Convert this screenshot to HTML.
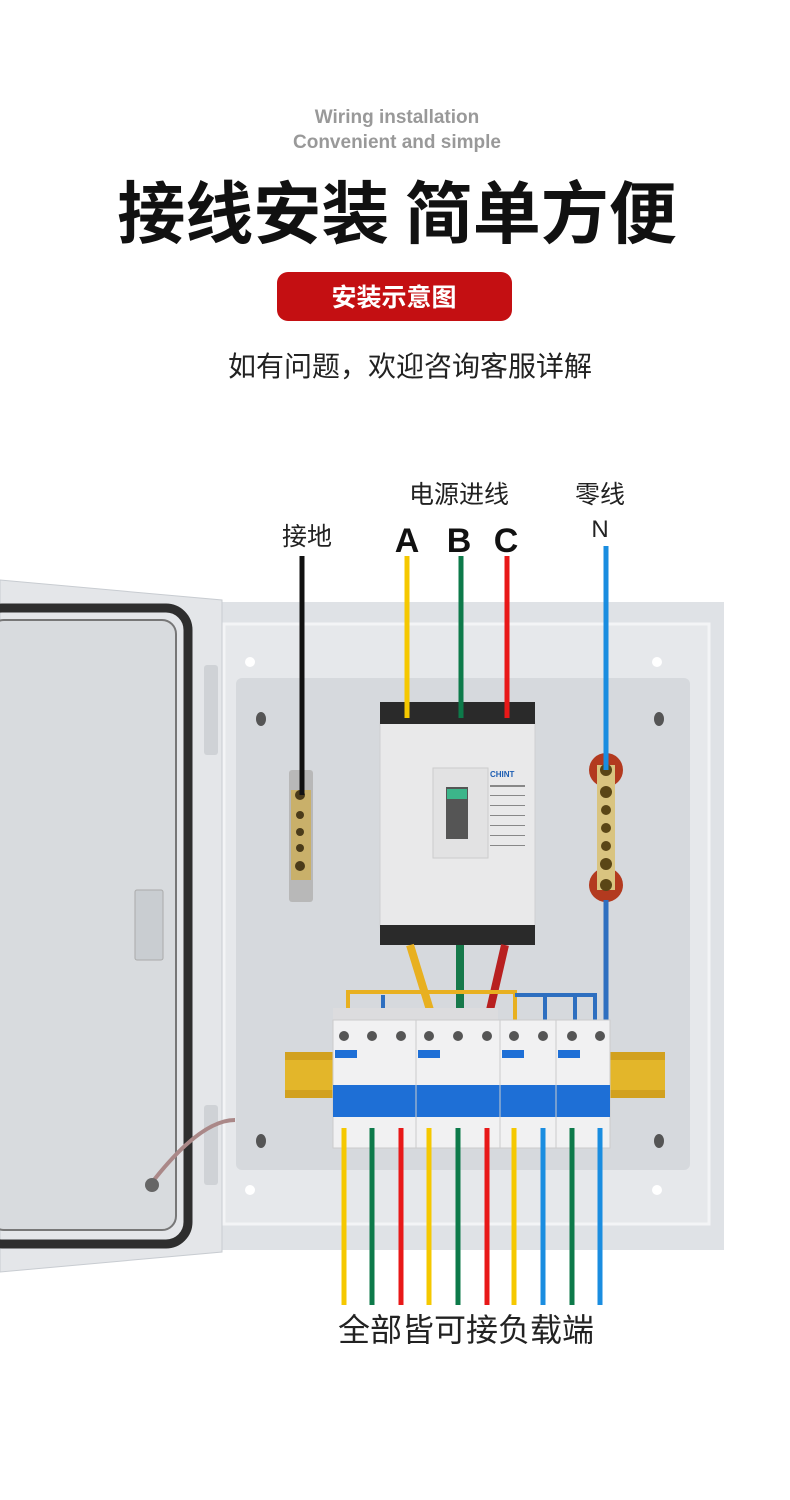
<!DOCTYPE html>
<html><head><meta charset="utf-8"><style>
html,body{margin:0;padding:0;background:#fff;width:790px;height:1500px;overflow:hidden}
svg{display:block}
text{font-family:"Liberation Sans","Noto Sans CJK SC",sans-serif}
</style></head><body>
<svg width="790" height="1500" viewBox="0 0 790 1500">
<rect width="790" height="1500" fill="#fff"/>
<text x="397" y="123" text-anchor="middle" font-size="19" font-weight="bold" fill="#999">Wiring installation</text>
<text x="397" y="148" text-anchor="middle" font-size="19" font-weight="bold" fill="#999">Convenient and simple</text>
<text x="397" y="238" text-anchor="middle" font-size="68" font-weight="bold" fill="#111" style="font-family:'Noto Sans CJK SC',sans-serif">接线安装 简单方便</text>
<rect x="277" y="272" width="235" height="49" rx="11" fill="#c40f12"/>
<text x="394" y="306" text-anchor="middle" font-size="25" font-weight="bold" fill="#fff" style="font-family:'Noto Sans CJK SC',sans-serif">安装示意图</text>
<text x="410" y="376" text-anchor="middle" font-size="28" fill="#222" style="font-family:'Noto Sans CJK SC',sans-serif">如有问题，欢迎咨询客服详解</text>
<text x="459" y="503" text-anchor="middle" font-size="25" fill="#222" style="font-family:'Noto Sans CJK SC',sans-serif">电源进线</text>
<text x="600" y="503" text-anchor="middle" font-size="25" fill="#222" style="font-family:'Noto Sans CJK SC',sans-serif">零线</text>
<text x="600" y="537" text-anchor="middle" font-size="24" fill="#222">N</text>
<text x="307" y="545" text-anchor="middle" font-size="25" fill="#222" style="font-family:'Noto Sans CJK SC',sans-serif">接地</text>
<text x="407" y="552" text-anchor="middle" font-size="34" font-weight="bold" fill="#111">A</text>
<text x="459" y="552" text-anchor="middle" font-size="34" font-weight="bold" fill="#111">B</text>
<text x="506" y="552" text-anchor="middle" font-size="34" font-weight="bold" fill="#111">C</text>
<rect x="219" y="602" width="505" height="648" fill="#dfe2e6"/>
<rect x="224" y="624" width="485" height="600" fill="#e6e8eb" stroke="#f3f4f6" stroke-width="3"/>
<rect x="236" y="678" width="454" height="492" rx="6" fill="#d6d9dd"/>
<circle cx="250" cy="662" r="5" fill="#fff"/><circle cx="657" cy="662" r="5" fill="#fff"/>
<circle cx="250" cy="1190" r="5" fill="#fff"/><circle cx="657" cy="1190" r="5" fill="#fff"/>
<g fill="#555"><ellipse cx="261" cy="719" rx="5" ry="7"/><ellipse cx="659" cy="719" rx="5" ry="7"/><ellipse cx="261" cy="1141" rx="5" ry="7"/><ellipse cx="659" cy="1141" rx="5" ry="7"/></g>
<path d="M0 580 L222 600 L222 1252 L0 1272 Z" fill="#e4e6e9" stroke="#c8ccd1"/>
<rect x="-20" y="608" width="208" height="636" rx="22" fill="none" stroke="#2e2e2e" stroke-width="9"/>
<rect x="-10" y="620" width="186" height="610" rx="14" fill="#d8dbde" stroke="#777" stroke-width="2"/>
<rect x="204" y="665" width="14" height="90" rx="3" fill="#cfd2d6"/>
<rect x="204" y="1105" width="14" height="80" rx="3" fill="#cfd2d6"/>
<rect x="135" y="890" width="28" height="70" rx="2" fill="#c9cdd1" stroke="#aaa"/>
<path d="M150 1185 Q200 1120 235 1120" stroke="#a88" stroke-width="4" fill="none"/>
<circle cx="152" cy="1185" r="7" fill="#666"/>
<rect x="289" y="770" width="24" height="132" rx="3" fill="#b8b8b8"/>
<rect x="291" y="790" width="20" height="90" fill="#c9b06a"/>
<g fill="#4a3b1a"><circle cx="300" cy="795" r="5"/><circle cx="300" cy="815" r="4"/><circle cx="300" cy="832" r="4"/><circle cx="300" cy="848" r="4"/><circle cx="300" cy="866" r="5"/></g>
<circle cx="606" cy="770" r="17" fill="#b33a1f"/><circle cx="606" cy="885" r="17" fill="#b33a1f"/>
<rect x="597" y="765" width="18" height="125" fill="#d9c480"/>
<g fill="#5a4616"><circle cx="606" cy="770" r="6"/><circle cx="606" cy="792" r="6"/><circle cx="606" cy="810" r="5"/><circle cx="606" cy="828" r="5"/><circle cx="606" cy="846" r="5"/><circle cx="606" cy="864" r="6"/><circle cx="606" cy="885" r="6"/></g>
<rect x="380" y="722" width="155" height="205" fill="#e9e9ea" stroke="#cfcfd1"/>
<rect x="380" y="702" width="155" height="22" fill="#2a2a2a"/>
<rect x="380" y="925" width="155" height="20" fill="#2a2a2a"/>
<rect x="433" y="768" width="55" height="90" fill="#e2e2e3" stroke="#ccc"/>
<rect x="446" y="787" width="22" height="52" fill="#555"/><rect x="447" y="789" width="20" height="10" fill="#3cb58a"/>
<text x="490" y="777" font-size="8" font-weight="bold" fill="#1f5fb3">CHINT</text>
<g fill="#888"><rect x="490" y="785" width="35" height="2"/><rect x="490" y="795" width="35" height="1"/><rect x="490" y="805" width="35" height="1"/><rect x="490" y="815" width="35" height="1"/><rect x="490" y="825" width="35" height="1"/><rect x="490" y="835" width="35" height="1"/><rect x="490" y="845" width="35" height="1"/></g>
<path d="M410 945 L430 1010" stroke="#e8b020" stroke-width="8"/>
<path d="M460 945 L460 1010" stroke="#16794a" stroke-width="8"/>
<path d="M505 945 L490 1010" stroke="#b82020" stroke-width="8"/>
<path d="M606 900 L606 1020" stroke="#2e6fc0" stroke-width="5" fill="none"/>
<path d="M348 1020 V992 H515 V1020" stroke="#e8b020" stroke-width="4" fill="none"/>
<path d="M383 1020 V995 M515 995 H595 V1020 M545 1020 V995 M575 1020 V995" stroke="#2e6fc0" stroke-width="4" fill="none"/>
<rect x="285" y="1052" width="380" height="46" fill="#d2a11f"/>
<rect x="285" y="1060" width="380" height="30" fill="#e3b62a"/>
<rect x="333" y="1008" width="165" height="18" fill="#dcdcde"/>
<rect x="333" y="1020" width="277" height="128" fill="#f1f1f2" stroke="#ccc"/>
<rect x="333" y="1085" width="277" height="32" fill="#1e6fd6"/>
<g fill="#555"><circle cx="344" cy="1036" r="5"/><circle cx="372" cy="1036" r="5"/><circle cx="401" cy="1036" r="5"/><circle cx="429" cy="1036" r="5"/><circle cx="458" cy="1036" r="5"/><circle cx="487" cy="1036" r="5"/><circle cx="514" cy="1036" r="5"/><circle cx="543" cy="1036" r="5"/><circle cx="572" cy="1036" r="5"/><circle cx="600" cy="1036" r="5"/></g>
<g fill="#1e6fd6"><rect x="335" y="1050" width="22" height="8"/><rect x="418" y="1050" width="22" height="8"/><rect x="502" y="1050" width="22" height="8"/><rect x="558" y="1050" width="22" height="8"/></g>
<g stroke="#ccc"><line x1="416" y1="1020" x2="416" y2="1148"/><line x1="500" y1="1020" x2="500" y2="1148"/><line x1="556" y1="1020" x2="556" y2="1148"/></g>
<g stroke-width="5"><line x1="344" y1="1128" x2="344" y2="1305" stroke="#f5c800"/><line x1="372" y1="1128" x2="372" y2="1305" stroke="#0d7a4a"/><line x1="401" y1="1128" x2="401" y2="1305" stroke="#e81818"/><line x1="429" y1="1128" x2="429" y2="1305" stroke="#f5c800"/><line x1="458" y1="1128" x2="458" y2="1305" stroke="#0d7a4a"/><line x1="487" y1="1128" x2="487" y2="1305" stroke="#e81818"/><line x1="514" y1="1128" x2="514" y2="1305" stroke="#f5c800"/><line x1="543" y1="1128" x2="543" y2="1305" stroke="#1a8de0"/><line x1="572" y1="1128" x2="572" y2="1305" stroke="#0d7a4a"/><line x1="600" y1="1128" x2="600" y2="1305" stroke="#1a8de0"/></g>
<line x1="302" y1="556" x2="302" y2="795" stroke="#111" stroke-width="5"/>
<line x1="407" y1="556" x2="407" y2="718" stroke="#f5c800" stroke-width="5"/>
<line x1="461" y1="556" x2="461" y2="718" stroke="#0d7a4a" stroke-width="5"/>
<line x1="507" y1="556" x2="507" y2="718" stroke="#e81818" stroke-width="5"/>
<line x1="606" y1="546" x2="606" y2="770" stroke="#1a8de0" stroke-width="5"/>
<text x="466" y="1341" text-anchor="middle" font-size="32" fill="#222" style="font-family:'Noto Sans CJK SC',sans-serif">全部皆可接负载端</text>
</svg>
</body></html>
